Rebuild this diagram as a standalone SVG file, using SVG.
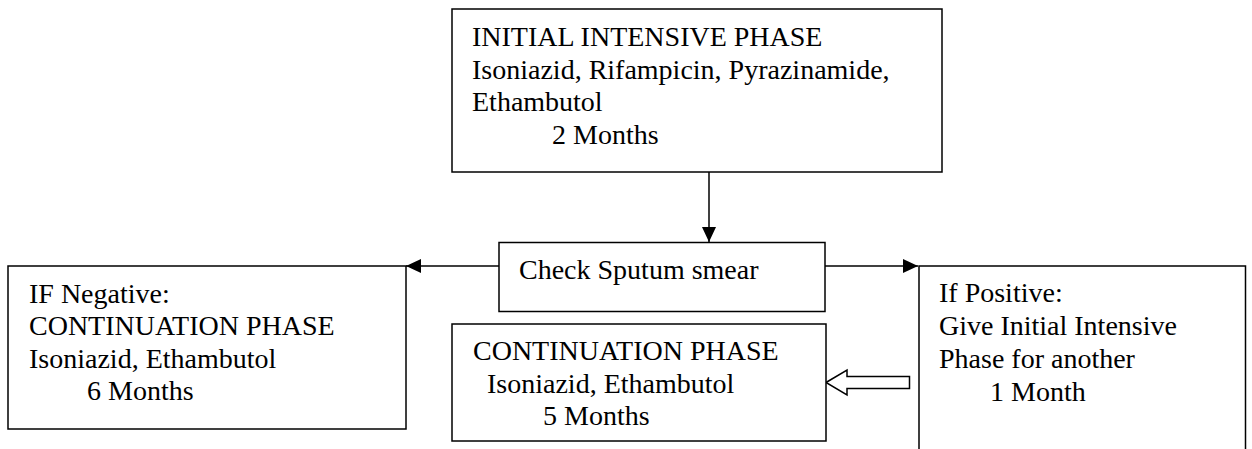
<svg xmlns="http://www.w3.org/2000/svg" width="1252" height="449" viewBox="0 0 1252 449">
<defs>
<style>
.box{fill:#fff;stroke:#000;stroke-width:1.5}
text{font-family:'Liberation Serif','Times New Roman',Times,serif;font-size:28px;fill:#000}
.ln{stroke:#000;stroke-width:1.5;fill:none}
</style>
<marker id="ah" viewBox="0 0 15 14" refX="15" refY="7" markerWidth="15" markerHeight="14" markerUnits="userSpaceOnUse" orient="auto">
<path d="M0,0 L15,7 L0,14 Z" fill="#000"/>
</marker>
</defs>
<rect width="1252" height="449" fill="#fff"/>
<g id="connectors">
<line class="ln" x1="709" y1="172" x2="709" y2="242" marker-end="url(#ah)"/>
<line class="ln" x1="499" y1="266" x2="406" y2="266" marker-end="url(#ah)"/>
<line class="ln" x1="825" y1="266" x2="918" y2="266" marker-end="url(#ah)"/>
<polygon class="box" points="826,382.5 847,370 847,376.5 909.5,376.5 909.5,388.5 847,388.5 847,395"/>
</g>
<g font-family="'Liberation Serif', 'Times New Roman', Times, serif" font-size="28">
<g id="initial-phase">
<rect class="box" x="452" y="9" width="490" height="163"/>
<text x="472" y="46">INITIAL INTENSIVE PHASE</text>
<text x="472" y="78.5">Isoniazid, Rifampicin, Pyrazinamide,</text>
<text x="472" y="111">Ethambutol</text>
<text x="552" y="143.5">2 Months</text>
</g>
<g id="check-sputum">
<rect class="box" x="499" y="242.5" width="326" height="69"/>
<text x="519" y="279">Check Sputum smear</text>
</g>
<g id="if-negative">
<rect class="box" x="8" y="266" width="398" height="163"/>
<text x="29" y="302.5">IF Negative:</text>
<text x="29" y="335">CONTINUATION PHASE</text>
<text x="29" y="367.5">Isoniazid, Ethambutol</text>
<text x="87" y="400">6 Months</text>
</g>
<g id="continuation">
<rect class="box" x="452" y="324" width="374" height="117"/>
<text x="473" y="360">CONTINUATION PHASE</text>
<text x="487" y="393">Isoniazid, Ethambutol</text>
<text x="543" y="425">5 Months</text>
</g>
<g id="if-positive">
<path class="box" d="M919,452 L919,266 L1245.5,266 L1245.5,452"/>
<text x="939" y="301.5">If Positive:</text>
<text x="939" y="335">Give Initial Intensive</text>
<text x="939" y="368">Phase for another</text>
<text x="990" y="400.5">1 Month</text>
</g>
</g>
</svg>
